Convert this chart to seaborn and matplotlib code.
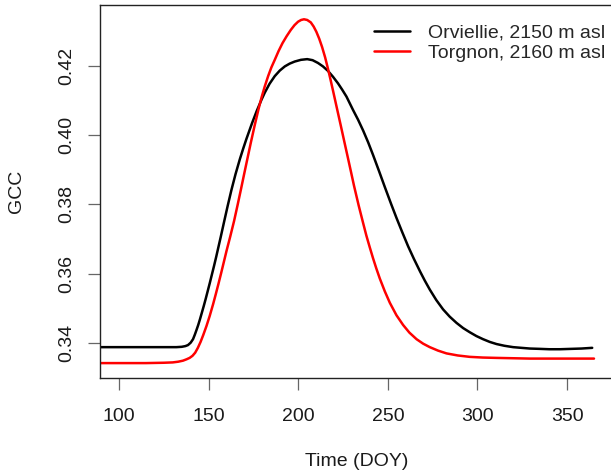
import numpy as np
import pandas as pd
import matplotlib
matplotlib.use("Agg")
import matplotlib.pyplot as plt
import seaborn as sns

# ---- data ----
doy_orv = [89, 100, 115, 125, 132, 135, 137, 138.5, 140, 141.3, 142.3, 143.2,
           144.2, 145.2, 146.2, 147.3, 148.4, 149.5, 150.6, 151.8, 153, 154.2,
           155.3, 156.8, 158.6, 160.6, 162.7, 165, 167.4, 169.3, 171.1, 174.2,
           176.8, 179.5, 181.3, 184, 186.9, 189.7, 192.5, 195.2, 198, 201.5, 205,
           208, 211, 213.8, 216.6, 219.4, 222.2, 224.5, 226.9, 230.6, 233.4,
           236.2, 239, 241.7, 245, 248.3, 251.9, 254.8, 258, 261.3, 264.5, 268,
           270.6, 273.4, 277, 280.8, 284.5, 288.3, 292, 295.7, 299.4, 303.1,
           306.9, 310.6, 315, 319.9, 324.5, 329.2, 335, 340, 346, 352, 358, 364]
gcc_orv = [0.3388, 0.3388, 0.3388, 0.3388, 0.3388, 0.3389, 0.3391, 0.3394, 0.3401,
           0.3411, 0.3424, 0.3437, 0.3452, 0.3469, 0.3487, 0.3507, 0.3528, 0.3550,
           0.3572, 0.3597, 0.3622, 0.3648, 0.3673, 0.3707, 0.3749, 0.3795, 0.3841,
           0.3887, 0.3930, 0.3961, 0.3989, 0.4034, 0.4069, 0.4102, 0.4122, 0.4148,
           0.4170, 0.4186, 0.4198, 0.4206, 0.4212, 0.4217, 0.4219, 0.4216, 0.4208,
           0.4198, 0.4185, 0.4168, 0.4149, 0.4131, 0.4111, 0.4072, 0.4044, 0.4013,
           0.3979, 0.3943, 0.3897, 0.3850, 0.3800, 0.3761, 0.3720, 0.3679, 0.3643,
           0.3606, 0.3580, 0.3554, 0.3524, 0.3497, 0.3476, 0.3458, 0.3443, 0.3431,
           0.3420, 0.3411, 0.3403, 0.3397, 0.3392, 0.3388, 0.3386, 0.3384, 0.3383,
           0.3382, 0.3382, 0.3383, 0.3384, 0.3386]

doy_tor = [89, 100, 115, 125, 130, 133, 135.7, 137.7, 139.4, 141, 142.5, 144, 145.5,
           147, 148.8, 150.6, 152.5, 154, 155.5, 157, 158.5, 160, 162, 164.2,
           166.2, 168.1, 169.8, 171.4, 173.5, 175.7, 177.8, 179.5, 181.3, 183.2,
           185, 186.9, 189, 191.2, 193.5, 195.8, 197.9, 199.9, 201.6, 203.2, 205,
           207, 208.6, 210.1, 211.7, 213.3, 215, 216.6, 218, 219.4, 221.5, 223.7,
           225.7, 227.8, 229.5, 231.1, 233.7, 236.2, 238, 239.9, 241.7, 243.5,
           245.5, 248.3, 251.1, 254.8, 258.5, 262, 266, 269.7, 273.4, 278, 282.7,
           289, 295.7, 303, 310.6, 320, 329.2, 345, 365]
gcc_tor = [0.3342, 0.3342, 0.3342, 0.3343, 0.3344, 0.3346, 0.3349, 0.3353, 0.3357,
           0.3363, 0.3372, 0.3386, 0.3403, 0.3423, 0.3449, 0.3478, 0.3512, 0.3541,
           0.3571, 0.3602, 0.3634, 0.3666, 0.3706, 0.3752, 0.3799, 0.3845, 0.3887,
           0.3926, 0.3977, 0.4028, 0.4074, 0.4108, 0.4140, 0.4170, 0.4195, 0.4217,
           0.4242, 0.4265, 0.4285, 0.4303, 0.4317, 0.4327, 0.4332, 0.4334, 0.4332,
           0.4325, 0.4313, 0.4298, 0.4278, 0.4254, 0.4224, 0.4191, 0.4160, 0.4128,
           0.4079, 0.4028, 0.3981, 0.3932, 0.3892, 0.3854, 0.3797, 0.3746, 0.3710,
           0.3676, 0.3645, 0.3616, 0.3586, 0.3549, 0.3516, 0.3480, 0.3452, 0.3430,
           0.3411, 0.3398, 0.3388, 0.3378, 0.3370, 0.3364, 0.3360, 0.3358, 0.3357,
           0.3356, 0.3355, 0.3355, 0.3355]

series_names = ["Orviellie, 2150 m asl", "Torgnon, 2160 m asl"]
series_colors = ["black", "#ff0000"]
x_ticks = [100, 150, 200, 250, 300, 350]
y_ticks = [0.34, 0.36, 0.38, 0.40, 0.42]

df = pd.concat([
    pd.DataFrame({"DOY": doy_orv, "GCC": gcc_orv, "site": series_names[0]}),
    pd.DataFrame({"DOY": doy_tor, "GCC": gcc_tor, "site": series_names[1]}),
], ignore_index=True)

sns.set_style("ticks")
plt.rcParams["font.family"] = ["Liberation Sans", "DejaVu Sans"]
plt.rcParams["font.size"] = 14

fig = plt.figure(figsize=(6.11, 4.72), dpi=100)
W, H = 611, 472
ax = fig.add_axes([100 / W, 1 - 378 / H, 513 / W, 373 / H])

sns.lineplot(data=df, x="DOY", y="GCC", hue="site", hue_order=series_names,
             palette=series_colors, estimator=None, sort=True, lw=1.8, ax=ax)
for ln in ax.get_lines():
    ln.set_solid_joinstyle("round")
    ln.set_solid_capstyle("round")

ax.set_xlim(89.4, 375.6)
ax.set_ylim(0.3299, 0.43752)
ax.set_xticks(x_ticks)
ax.set_xticklabels([str(t) for t in x_ticks])
ax.set_yticks(y_ticks)
ax.set_yticklabels([f"{t:.2f}" for t in y_ticks], rotation=90, va="center")

for s in ["left", "bottom", "top", "right"]:
    ax.spines[s].set_color("#222222")
    ax.spines[s].set_linewidth(1.0)

ax.tick_params(axis="both", direction="out", length=8.5, width=0.9,
               color="#666666", labelcolor="#1a1a1a", labelsize=14)
ax.tick_params(axis="x", pad=13)
ax.tick_params(axis="y", pad=9)

ax.set_xlabel("Time (DOY)", fontsize=14, color="#1a1a1a", va="center")
ax.set_ylabel("GCC", fontsize=14, color="#1a1a1a", va="center")
ax.xaxis.set_label_coords(0.5, (378 - 461) / 373)
ax.yaxis.set_label_coords((16 - 100) / 513, 0.5)

leg = ax.legend(loc="upper left", bbox_to_anchor=(374 / W, 1 - 24 / H),
                bbox_transform=fig.transFigure, frameon=False, fontsize=14,
                handlelength=1.86, handletextpad=0.93, labelspacing=0.12,
                borderpad=0, borderaxespad=0, title=None)
for line in leg.get_lines():
    line.set_linewidth(1.8)

fig.savefig("out.png", dpi=100)
